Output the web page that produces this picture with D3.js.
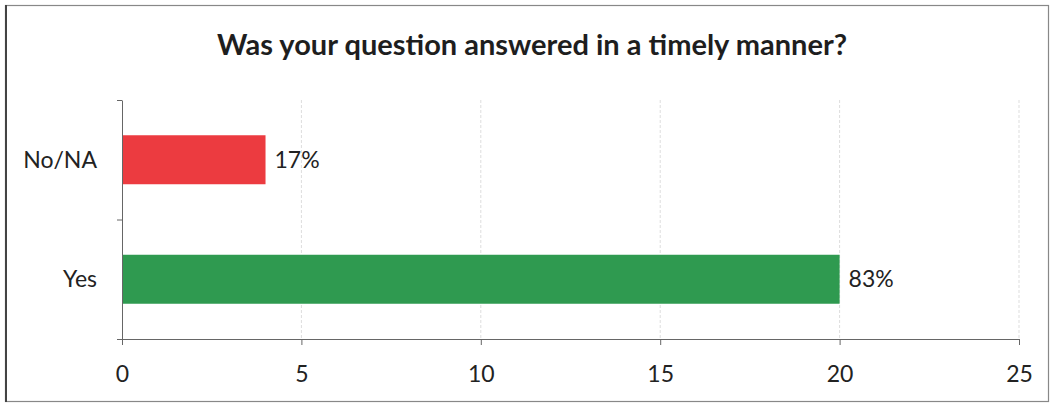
<!DOCTYPE html>
<html><head><meta charset="utf-8">
<script src="https://cdn.jsdelivr.net/npm/d3@7"></script>
<style>html,body{margin:0;padding:0;background:#fff;}</style>
</head><body>
<svg id="chart" width="1054" height="405"></svg>
<script>
const title = "Was your question answered in a timely manner?";
const categories = ["No/NA", "Yes"];
const values = [4, 20];
const labels = ["17%", "83%"];
const barColors = ["#ec3b40", "#2f9a50"];
const xTicks = [0, 5, 10, 15, 20, 25];

(function () {
const svg = d3.select("#chart");
const font = "Lato, 'Open Sans', sans-serif";

svg.append("rect").attr("x", 5.5).attr("y", 5.5).attr("width", 1043).attr("height", 396)
  .attr("fill", "#fff").attr("stroke", "#888").attr("stroke-width", 1.2);
svg.append("line").attr("x1", 6).attr("x2", 6).attr("y1", 5).attr("y2", 402)
  .attr("stroke", "#444").attr("stroke-width", 2);

const mLeft = 122, mRight = 1019, mTop = 100, mBottom = 339;
const x = d3.scaleLinear().domain([0, 25]).range([mLeft, mRight]);
const y = d3.scaleBand().domain(categories).range([mTop, mBottom]).paddingInner(0.59).paddingOuter(0.295);

svg.append("text").attr("x", 532).attr("y", 55).attr("text-anchor", "middle")
  .attr("font-family", font).attr("font-weight", "bold").attr("font-size", 29).attr("fill", "#1e1e1e")
  .text(title);

// gridlines
svg.append("g").selectAll("line").data(xTicks.filter(d => d > 0)).join("line")
  .attr("x1", d => x(d)).attr("x2", d => x(d)).attr("y1", mTop).attr("y2", mBottom)
  .attr("stroke", "#ddd").attr("stroke-dasharray", "3,2").attr("stroke-width", 1);

// bars
svg.append("g").selectAll("rect").data(values).join("rect")
  .attr("x", x(0)).attr("y", (d, i) => y(categories[i]))
  .attr("width", d => x(d) - x(0)).attr("height", y.bandwidth())
  .attr("fill", (d, i) => barColors[i]);

// value labels
svg.append("g").selectAll("text").data(values).join("text")
  .attr("x", d => x(d) + 9).attr("y", (d, i) => y(categories[i]) + y.bandwidth() / 2)
  .attr("dy", "0.35em").attr("font-family", font).attr("font-size", 23).attr("fill", "#222")
  .text((d, i) => labels[i]);

// x axis
const xAxis = svg.append("g").attr("transform", `translate(0,${mBottom})`)
  .call(d3.axisBottom(x).tickValues(xTicks).tickSize(6).tickPadding(21).tickSizeOuter(0));
xAxis.select(".domain").attr("stroke", "#666");
xAxis.selectAll(".tick line").attr("stroke", "#666");
xAxis.selectAll("text").attr("font-family", font).attr("font-size", 23).attr("fill", "#222");

// y axis
const yAx = d3.scaleLinear().domain([0, 2]).range([mTop, mBottom]);
const yAxis = svg.append("g").attr("transform", `translate(${mLeft},0)`)
  .call(d3.axisLeft(yAx).tickValues([0, 1, 2]).tickSize(5).tickFormat("").tickSizeOuter(0));
yAxis.select(".domain").attr("stroke", "#666");
yAxis.selectAll(".tick line").attr("stroke", "#666");

svg.append("g").selectAll("text").data(categories).join("text")
  .attr("x", mLeft - 25).attr("y", d => y(d) + y.bandwidth() / 2).attr("dy", "0.35em")
  .attr("text-anchor", "end").attr("font-family", font).attr("font-size", 23).attr("fill", "#222")
  .text(d => d);
})();
</script>
</body></html>
